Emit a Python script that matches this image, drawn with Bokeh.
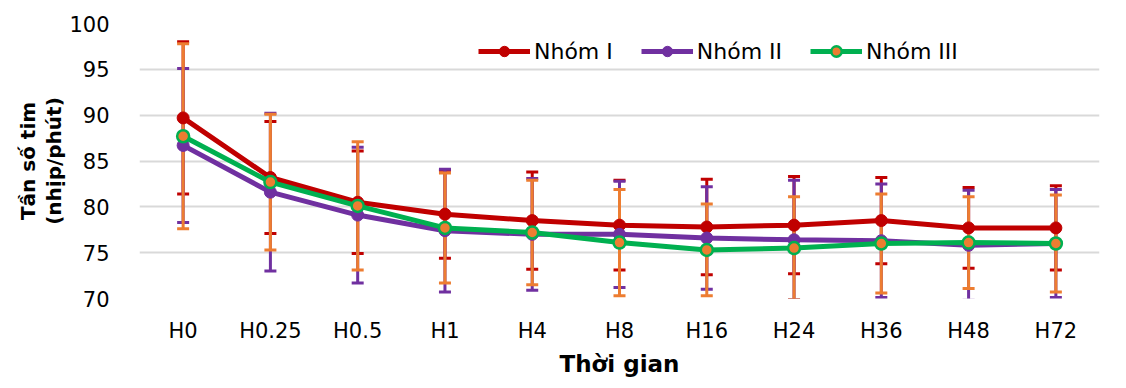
import numpy as np
from bokeh.plotting import figure
from bokeh.models import (FactorRange, Range1d, Legend, LegendItem, ColumnDataSource,
                          FixedTicker)
from bokeh.embed import file_html
from bokeh.resources import INLINE

# ---- data ----
categories = ["H0", "H0.25", "H0.5", "H1", "H4", "H8", "H16", "H24", "H36", "H48", "H72"]
group1_mean = [89.7, 83.2, 80.5, 79.2, 78.5, 78.0, 77.8, 78.0, 78.5, 77.7, 77.7]
group1_sd = [8.3, 6.1, 5.6, 4.8, 5.3, 4.9, 5.2, 5.3, 4.7, 4.4, 4.6]
group2_mean = [86.7, 81.6, 79.1, 77.4, 77.0, 77.0, 76.6, 76.4, 76.3, 75.8, 76.0]
group2_sd = [8.4, 8.6, 7.4, 6.7, 6.1, 5.8, 5.6, 6.5, 6.2, 6.0, 5.9]
group3_mean = [87.7, 82.7, 80.1, 77.7, 77.2, 76.1, 75.3, 75.5, 76.0, 76.1, 76.0]
group3_sd = [10.1, 7.4, 7.0, 6.0, 5.7, 5.8, 5.0, 5.6, 5.4, 5.0, 5.3]
series_names = ["Nhóm I", "Nhóm II", "Nhóm III"]
y_ticks = [70, 75, 80, 85, 90, 95, 100]

FONT = "DejaVu Sans"

p = figure(x_range=FactorRange(*categories, range_padding=0), y_range=Range1d(70, 100),
           width=1110, height=380, output_backend="svg", toolbar_location=None,
           min_border_left=139, min_border_right=11, min_border_top=23, min_border_bottom=82)
p.outline_line_color = None
p.background_fill_color = "white"
p.border_fill_color = "white"

# axes
p.yaxis.ticker = FixedTicker(ticks=y_ticks)
for ax in (p.xaxis[0], p.yaxis[0]):
    ax.axis_line_color = None
    ax.major_tick_line_color = None
    ax.minor_tick_line_color = None
    ax.major_label_text_font = FONT
    ax.major_label_text_font_size = "21px"
    ax.major_label_text_color = "#000000"
    ax.axis_label_text_font = FONT
    ax.axis_label_text_font_style = "bold"
    ax.axis_label_text_color = "#000000"
p.yaxis.major_label_standoff = 24
p.xaxis.major_label_standoff = 14
p.xaxis.axis_label = "Thời gian"
p.xaxis.axis_label_text_font_size = "23px"
p.xaxis.axis_label_standoff = 5
p.yaxis.axis_label = "Tần số tim\n(nhịp/phút)"
p.yaxis.axis_label_text_font_size = "20px"
p.yaxis.axis_label_standoff = 0
p.yaxis.axis_label_text_line_height = 1.1

p.xgrid.grid_line_color = None
p.ygrid.grid_line_color = "#D9D9D9"
p.ygrid.grid_line_width = 2

colors = ["#C00000", "#7030A0", "#00B050"]
err_colors = ["#C00000", "#7030A0", "#ED7D31"]
means = [group1_mean, group2_mean, group3_mean]
sds = [group1_sd, group2_sd, group3_sd]

# error bars first
for m, s, ec in zip(means, sds, err_colors):
    m = np.array(m); s = np.array(s)
    src = ColumnDataSource(dict(x=categories, up=m + s, lo=m - s))
    p.segment(x0="x", y0="lo", x1="x", y1="up", source=src, line_color=ec, line_width=3)
    p.scatter(x="x", y="up", source=src, marker="dash", size=12, line_color=ec, line_width=3)
    p.scatter(x="x", y="lo", source=src, marker="dash", size=12, line_color=ec, line_width=3)

items = []
for name, m, c in zip(series_names, means, colors):
    src = ColumnDataSource(dict(x=categories, y=m))
    ln = p.line(x="x", y="y", source=src, line_color=c, line_width=5)
    if c == "#00B050":
        mk = p.scatter(x="x", y="y", source=src, size=12, fill_color="#ED7D31",
                       line_color=c, line_width=2.5)
    else:
        mk = p.scatter(x="x", y="y", source=src, size=12, fill_color=c, line_color=c)
    items.append(LegendItem(label=name, renderers=[ln, mk]))

legend = Legend(items=items, orientation="horizontal", location=(339, 234),
                label_text_font=FONT, label_text_font_size="22px", label_text_color="#000000",
                glyph_width=52, glyph_height=26, label_height=26, label_standoff=4,
                spacing=28, padding=0, margin=0, border_line_color=None,
                background_fill_alpha=0)
p.add_layout(legend, "center")

open("out.html", "w").write(file_html(p, INLINE))
